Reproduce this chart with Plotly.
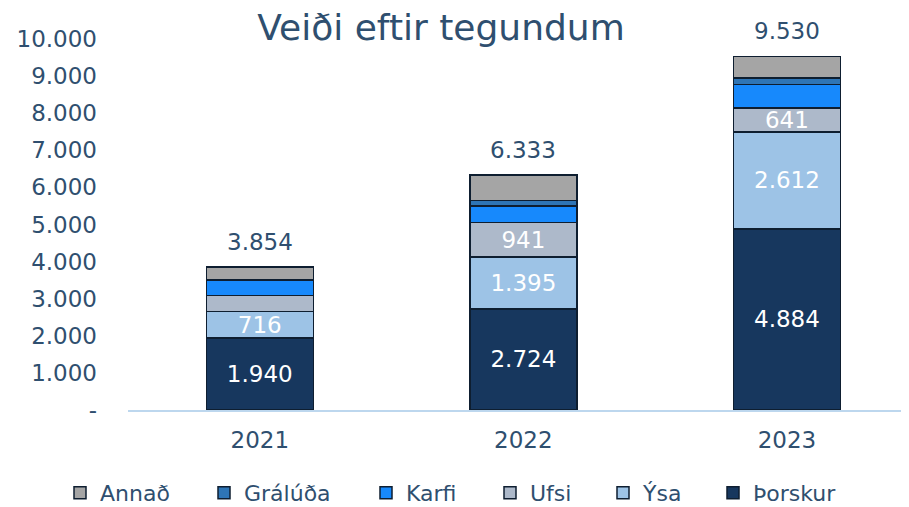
import plotly.graph_objects as go

years = ["2021", "2022", "2023"]
thorskur = [1940, 2724, 4884]
ysa = [716, 1395, 2612]
ufsi = [430, 941, 641]
karfi = [400, 440, 630]
gralúda = [30, 150, 180]
annad = [338, 683, 583]
totals = [3854, 6333, 9530]
yticks = [0, 1000, 2000, 3000, 4000, 5000, 6000, 7000, 8000, 9000, 10000]

def fmt(v):
    return f"{v:,}".replace(",", ".")

ytick_text = ["-" if v == 0 else fmt(v) for v in yticks]

TXT = "#2F4F6F"
OUT = "#0E1E30"
FONT = "DejaVu Sans"

series = [
    ("Þorskur", thorskur, "#17375E", [fmt(v) for v in thorskur]),
    ("Ýsa", ysa, "#9DC3E6", [fmt(v) for v in ysa]),
    ("Ufsi", ufsi, "#ADB9CA", ["", fmt(ufsi[1]), fmt(ufsi[2])]),
    ("Karfi", karfi, "#1789FC", None),
    ("Grálúða", gralúda, "#2E75B6", None),
    ("Annað", annad, "#A5A5A5", None),
]

# page is drawn with an 8px body margin: figure coords = page coords - 8
OFF = 8
legend_sq = {"Annað": 78, "Grálúða": 222, "Karfi": 384, "Ufsi": 508, "Ýsa": 621, "Þorskur": 731}
legend_ids = {"Þorskur": "legend7", "Ýsa": "legend2", "Ufsi": "legend3",
              "Karfi": "legend4", "Grálúða": "legend5", "Annað": "legend6"}

W, H = 909 - OFF, 507 - OFF
L, R, T, B = 128 - OFF, 4, 39 - OFF, 97

fig = go.Figure()
for name, vals, col, txt in series:
    fig.add_trace(go.Bar(
        x=years, y=vals, name=name,
        marker=dict(color=col, line=dict(color=OUT, width=1.5)),
        text=txt if txt else None,
        textposition="inside" if txt else "none",
        insidetextanchor="middle",
        textangle=0,
        constraintext="none",
        textfont=dict(color="white", size=23, family=FONT),
        hoverinfo="skip",
        legend=legend_ids[name],
    ))

for i, tot in enumerate(totals):
    fig.add_annotation(x=i, y=tot, xref="x", yref="y", text=fmt(tot),
                       showarrow=False, yshift=25, yanchor="middle",
                       font=dict(color=TXT, size=23, family=FONT))

layout_legends = {}
for name, lid in legend_ids.items():
    layout_legends[lid] = dict(
        orientation="h", xref="container", yref="container",
        x=(legend_sq[name] - OFF - 18) / W, xanchor="left",
        y=1 - (493 - OFF) / H, yanchor="middle",
        font=dict(size=22, color=TXT, family=FONT),
        bgcolor="rgba(0,0,0,0)", itemwidth=30,
    )

fig.update_layout(
    width=W, height=H,
    margin=dict(l=L, r=R, t=T, b=B),
    barmode="stack", bargap=0.594,
    plot_bgcolor="white", paper_bgcolor="white",
    separators=",.",
    title=dict(text="Veiði eftir tegundum", x=(441 - OFF) / W, xanchor="center",
               y=1 - (25 - OFF + 2) / H, yanchor="middle", yref="container", xref="container",
               font=dict(size=36, color=TXT, family=FONT)),
    xaxis=dict(type="category", range=[-0.5, 2.448], showline=True,
               linecolor="#BDD7EE", linewidth=2, showgrid=False, ticks="",
               tickfont=dict(size=23, color=TXT, family=FONT), ticklabelstandoff=8),
    yaxis=dict(range=[0, 10000], tickvals=yticks, ticktext=ytick_text,
               showgrid=False, zeroline=False, showline=False, ticks="",
               tickfont=dict(size=23, color=TXT, family=FONT), ticklabelstandoff=30),
    **layout_legends,
)

fig.write_html("out.html")
